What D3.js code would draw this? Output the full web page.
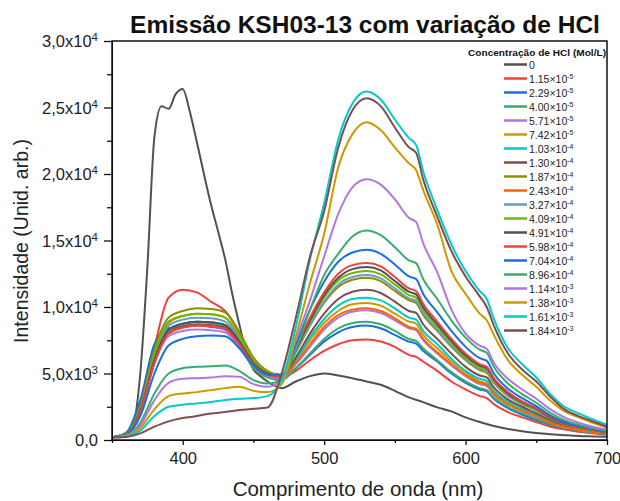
<!DOCTYPE html>
<meta charset="utf-8">
<style>
body { margin: 0; background: #fff; }
svg { font-family: Arial, "Liberation Sans", sans-serif; }
</style>
<svg id="chart" width="620" height="501"></svg>
<script src="https://d3js.org/d3.v7.min.js"></script>
<script>
// wavelength grid (nm) shared by the HCl spectra (extra points at the 565 / 615 nm shoulders)
var nm = [350,360,370,380,390,400,410,420,430,440,450,460,470,480,490,500,510,520,530,540,
          550,560,565,570,580,590,600,610,615,620,630,640,650,660,670,680,690,700];
// finer grid for the 0 M spectrum (steep first band)
var nmFine = [350,355,360,365,370,375,380,385,390,395,400,405,410,415,420,425,430,435,440,445,450,455,460,
              470,480,490,500,510,520,530,540,550,560,570,580,590,600,610,620,630,640,650,660,670,680,690,700];

var c0 = [200,200,350,1100,5000,13000,22800,25100,24900,26000,26400,24700,22400,20000,17700,15700,13600,11000,8700,6600,5300,4800,4400,
          3900,4400,4800,5000,4850,4650,4400,4150,3700,3200,2850,2450,2150,1700,1350,1050,820,650,520,430,360,300,270,250];

var c1_15e5 = [200,500,2800,7000,10700,11300,11100,10400,9700,8100,
  6100,5100,4700,5200,6000,6700,7200,7500,7550,7400,
  7000,6400,6250,5900,5200,4400,3800,3300,3150,2700,2100,1700,
  1350,1000,800,620,500,400];
var c2_29e5 = [200,550,3000,7200,8400,8500,8600,8500,8300,7200,
  5800,5000,4700,5400,6400,7400,8100,8500,8600,8400,
  7900,7400,7250,6700,5900,5000,4300,3800,3650,3100,2400,1900,
  1500,1150,900,700,560,450];
var c4_00e5 = [200,450,2400,6200,8300,8700,8900,8800,8500,7100,
  5400,4700,4500,5400,6500,7600,8400,8800,8900,8700,
  8200,7600,7450,6900,6000,5100,4400,3900,3750,3200,2500,2000,
  1600,1200,900,700,560,450];
var c5_71e5 = [200,450,2200,5800,7800,8200,8300,8250,8100,7000,
  5600,4800,4600,5700,7000,8300,9200,9650,9750,9550,
  9000,8400,8250,7500,6500,5600,4800,4200,4050,3400,2700,2150,
  1750,1300,950,750,600,480];
var c7_42e5 = [200,450,2400,6500,8800,9300,9500,9450,9200,7800,
  6000,5100,4800,6000,7500,8800,9700,10200,10300,10100,
  9500,8900,8750,7900,6900,5900,5100,4400,4250,3600,2800,2250,
  1850,1350,1000,780,620,500];
var c1_03e4 = [200,420,2200,6000,8300,8750,8900,8850,8600,7400,
  5800,4900,4700,6000,7700,9100,10100,10600,10700,10500,
  9900,9200,9050,8200,7200,6100,5200,4600,4450,3700,2900,2350,
  1900,1400,1050,800,640,500];
var c1_30e4 = [200,420,2100,5800,8100,8550,8700,8650,8450,7300,
  5700,4900,4700,6200,8000,9500,10600,11150,11300,11050,
  10400,9700,9550,8700,7600,6500,5500,4850,4700,3950,3050,2500,
  2000,1500,1100,850,660,520];
var c1_87e4 = [200,450,2500,6800,9200,9700,9900,9850,9600,8100,
  6200,5200,4900,6600,8600,10300,11500,12050,12200,11950,
  11200,10500,10300,9400,8200,7000,6000,5250,5050,4300,3300,2700,
  2200,1600,1200,920,720,560];
var c2_43e4 = [200,430,2100,5800,8000,8450,8600,8550,8350,7200,
  5700,4900,4700,5800,7200,8500,9400,9800,9900,9700,
  9150,8500,8350,7600,6600,5700,4900,4300,4150,3500,2700,2200,
  1800,1300,980,760,610,490];
var c3_27e4 = [200,430,2300,6300,8600,9050,9200,9150,8900,7600,
  5900,5000,4800,6600,8700,10400,11700,12250,12400,12150,
  11400,10650,10450,9550,8300,7100,6100,5350,5150,4350,3350,2750,
  2250,1650,1200,930,730,570];
var c4_09e4 = [200,450,2400,6500,8900,9350,9500,9450,9200,7800,
  6000,5100,4900,6800,8900,10700,12000,12550,12700,12450,
  11700,10900,10700,9800,8500,7300,6200,5450,5250,4450,3450,2800,
  2300,1700,1250,950,750,580];
var c4_91e4 = [200,420,2200,6000,8300,8750,8900,8850,8650,7400,
  5800,5000,4800,6800,9000,10900,12200,12850,13000,12750,
  11950,11150,10950,10000,8700,7450,6350,5600,5400,4550,3500,2850,
  2350,1700,1250,980,760,590];
var c5_98e4 = [200,420,2100,5800,8000,8450,8600,8550,8350,7200,
  5700,4900,4800,6900,9200,11100,12500,13150,13300,13050,
  12250,11400,11200,10250,8900,7600,6500,5700,5500,4650,3600,2900,
  2400,1750,1300,1000,770,600];
var c7_04e4 = [200,400,1800,5000,7100,7600,7800,7850,7800,6900,
  5600,4900,4900,7200,9800,11900,13400,14100,14300,14000,
  13200,12300,12100,11000,9600,8200,7000,6150,5950,5000,3850,3150,
  2550,1850,1350,1050,820,640];
var c8_96e4 = [200,350,1300,3500,5000,5400,5500,5550,5600,5200,
  4500,4250,4500,6800,9800,12400,14000,15300,15750,15400,
  14500,13500,13300,12100,10600,9000,7700,6800,6550,5500,4250,3450,
  2800,2050,1500,1150,900,700];
var c1_14e3 = [200,320,1100,3000,4300,4600,4650,4700,4800,4750,
  4200,4000,4600,7500,10500,13800,17000,19000,19600,19200,
  18100,16700,16400,14800,12600,9800,8000,7100,6850,5800,4600,3800,
  3100,2300,1700,1300,1000,800];
var c1_38e3 = [200,280,900,2300,3300,3500,3600,3750,3900,4000,
  3700,3600,4200,7800,11800,15500,20500,23000,23900,23300,
  22000,20800,20300,18800,16200,12700,11000,9500,9000,7900,6000,4900,
  4000,2950,2150,1700,1300,950];
var c1_61e3 = [200,260,700,1800,2500,2650,2750,2850,3000,3100,
  3150,3300,4500,8500,13600,17800,22600,25300,26200,25600,
  24100,22700,22200,20200,17300,14700,12700,11200,10600,9100,6900,5700,
  4700,3450,2500,2000,1550,1150];
var c1_84e3 = [200,230,500,1000,1400,1650,1800,2000,2100,2250,
  2350,2450,5000,9200,13800,17200,22000,24800,25700,25100,
  23500,22000,21600,19600,16800,14200,12300,10800,10000,8600,6500,5300,
  4400,3250,2300,1800,1400,1000];

// legend labels: mantissa and exponent of the HCl concentration
var hclMant = ["0","1.15","2.29","4.00","5.71","7.42","1.03","1.30","1.87","2.43",
               "3.27","4.09","4.91","5.98","7.04","8.96","1.14","1.38","1.61","1.84"];
var hclExp = ["","-5","-5","-5","-5","-5","-4","-4","-4","-4",
              "-4","-4","-4","-4","-4","-4","-3","-3","-3","-3"];
var colors = ["#515151","#f04040","#1a6fdf","#37ad6b","#b177de","#cc9900","#00cbcc","#7d4e4e","#8e8e00","#fb6501",
              "#6699cc","#6fb802","#515151","#f04040","#1a6fdf","#37ad6b","#b177de","#cc9900","#00cbcc","#7d4e4e"];

var yTicks = [0,5000,10000,15000,20000,25000,30000];
var yTickMant = ["0,0","5,0","1,0","1,5","2,0","2,5","3,0"];
var yTickExp = ["","3","4","4","4","4","4"];
var yMinor = [2500,7500,12500,17500,22500,27500];
var xTicks = [400,500,600,700];
var xMinor = [350,450,550,650];

var spectra = [c0,c1_15e5,c2_29e5,c4_00e5,c5_71e5,c7_42e5,c1_03e4,c1_30e4,c1_87e4,c2_43e4,
               c3_27e4,c4_09e4,c4_91e4,c5_98e4,c7_04e4,c8_96e4,c1_14e3,c1_38e3,c1_61e3,c1_84e3];

(function () {
  var svg = d3.select("#chart");
  var pLeft = 112, pRight = 607, pTop = 41, pBottom = 440;

  var x = d3.scaleLinear().domain([350, 700]).range([pLeft, pRight]);
  var y = d3.scaleLinear().domain([0, 30000]).range([pBottom, pTop]);

  svg.append("clipPath").attr("id", "clip")
    .append("rect").attr("x", pLeft).attr("y", pTop).attr("width", pRight - pLeft).attr("height", pBottom - pTop);

  // spectra
  var line = d3.line().curve(d3.curveMonotoneX)
    .x(function (d) { return x(d[0]); })
    .y(function (d) { return y(d[1]); });

  var gLines = svg.append("g").attr("clip-path", "url(#clip)");
  spectra.forEach(function (s, i) {
    var grid = i == 0 ? nmFine : nm;
    gLines.append("path")
      .attr("d", line(grid.map(function (w, k) { return [w, s[k]]; })))
      .attr("fill", "none")
      .attr("stroke", colors[i])
      .attr("stroke-width", 2)
      .attr("stroke-linejoin", "round");
  });

  // axes
  var xAxis = svg.append("g").attr("transform", "translate(0," + pBottom + ")")
    .call(d3.axisBottom(x).tickValues(xTicks).tickSize(5).tickSizeOuter(0).tickFormat(d3.format("d")));
  svg.append("g").attr("transform", "translate(0," + pBottom + ")")
    .call(d3.axisBottom(x).tickValues(xMinor).tickSize(3).tickFormat(""))
    .select(".domain").remove();
  xAxis.selectAll("text").attr("font-size", 16.5).attr("fill", "#222").attr("dy", "0.95em")
    .attr("font-family", "Arial, 'Liberation Sans', sans-serif");

  svg.append("g").attr("transform", "translate(" + pLeft + ",0)")
    .call(d3.axisLeft(y).tickValues(yTicks).tickSize(8).tickSizeOuter(0).tickFormat(""));
  svg.append("g").attr("transform", "translate(" + pLeft + ",0)")
    .call(d3.axisLeft(y).tickValues(yMinor).tickSize(5).tickFormat(""))
    .select(".domain").remove();
  svg.selectAll(".tick line").attr("stroke", "#111").attr("stroke-width", 1.3);

  yTicks.forEach(function (v, i) {
    var t = svg.append("text")
      .attr("x", 98).attr("y", y(v) + 6)
      .attr("text-anchor", "end")
      .attr("font-size", 16.5).attr("fill", "#222");
    t.append("tspan").text(yTickMant[i] + (yTickExp[i] ? "x10" : ""));
    if (yTickExp[i]) {
      t.append("tspan").attr("dy", -6).attr("font-size", 11.5).text(yTickExp[i]);
    }
  });

  // frame
  svg.append("rect")
    .attr("x", pLeft).attr("y", pTop).attr("width", pRight - pLeft).attr("height", pBottom - pTop)
    .attr("fill", "none").attr("stroke", "#111").attr("stroke-width", 1.5);

  // titles
  svg.append("text").attr("x", 365).attr("y", 33).attr("text-anchor", "middle")
    .attr("font-size", 24.5).attr("font-weight", "bold").attr("fill", "#111")
    .text("Emissão KSH03-13 com variação de HCl");
  svg.append("text").attr("x", 358).attr("y", 496).attr("text-anchor", "middle")
    .attr("font-size", 20.5).attr("fill", "#222")
    .text("Comprimento de onda (nm)");
  svg.append("text").attr("transform", "translate(28,241)rotate(-90)").attr("text-anchor", "middle")
    .attr("font-size", 19.5).attr("fill", "#222")
    .text("Intensidade (Unid. arb.)");

  // legend
  var legend = svg.append("g");
  legend.append("text").attr("x", 537).attr("y", 56).attr("text-anchor", "middle")
    .attr("font-size", 9.5).attr("font-weight", "bold").attr("fill", "#111")
    .attr("textLength", 138).attr("lengthAdjust", "spacingAndGlyphs")
    .text("Concentração de HCl (Mol/L)");
  hclMant.forEach(function (m, i) {
    var ly = 64.5 + i * 14;
    legend.append("line").attr("x1", 504).attr("x2", 527).attr("y1", ly).attr("y2", ly)
      .attr("stroke", colors[i]).attr("stroke-width", 2.5);
    var t = legend.append("text").attr("x", 529).attr("y", ly + 4)
      .attr("font-size", 10.5).attr("fill", "#222");
    t.append("tspan").text(m + (hclExp[i] ? "×10" : ""));
    if (hclExp[i]) {
      t.append("tspan").attr("dy", -4).attr("font-size", 7).text(hclExp[i]);
    }
  });
})();
</script>
